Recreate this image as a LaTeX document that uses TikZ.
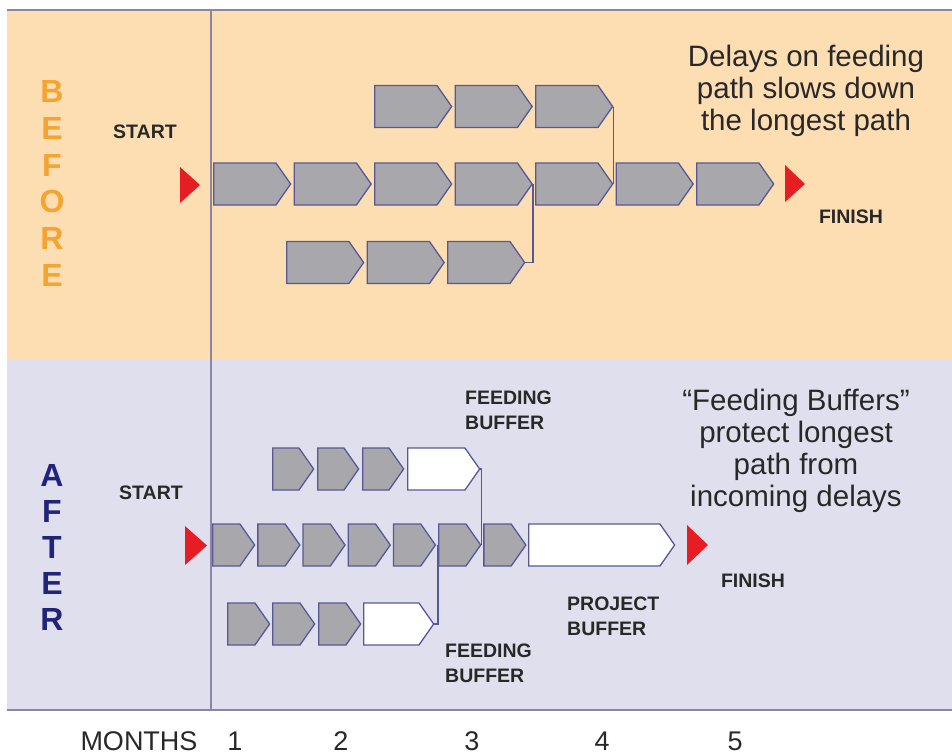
\documentclass[tikz,border=0pt]{standalone}
\usepackage{fontspec}
\setmainfont{Liberation Sans}
\usetikzlibrary{shapes.symbols,positioning}
\definecolor{PeachBg}{RGB}{253,221,178}
\definecolor{LilacBg}{RGB}{224,223,237}
\definecolor{FrameGray}{RGB}{140,134,165}
\definecolor{TaskGray}{RGB}{168,168,172}
\definecolor{TaskEdge}{RGB}{88,88,150}
\definecolor{MarkRed}{RGB}{230,30,36}
\definecolor{BeforeOrange}{RGB}{244,164,48}
\definecolor{AfterNavy}{RGB}{32,36,122}
\definecolor{InkGray}{RGB}{40,40,40}
\tikzset{
  task/.style={signal,signal to=east,signal pointer angle=110,draw=TaskEdge,fill=TaskGray,
    line width=1.3pt,inner sep=0pt,minimum height=42pt,anchor=west},
  buffer/.style={task,fill=white},
  link/.style={TaskEdge,line width=1.3pt},
  tag/.style={InkGray,font=\fontsize{19.5}{25}\selectfont\bfseries,align=left,inner sep=0pt},
  note/.style={InkGray,font=\fontsize{29.5}{32}\selectfont,align=center,inner sep=0pt},
  phase/.style={font=\fontsize{32}{32}\selectfont\bfseries,inner sep=0pt},
  month/.style={InkGray,font=\fontsize{27}{27}\selectfont,inner sep=0pt}
}
\begin{document}
\begin{tikzpicture}[x=1pt,y=-1pt]
      \useasboundingbox (0,0) rectangle (952,755);
      \fill[PeachBg] (7,11) rectangle (952,359);
      \fill[LilacBg] (7,359) rectangle (952,710);
      \draw[FrameGray,line width=2pt] (7,10)--(952,10) (7,710)--(952,710) (210.7,10)--(210.7,710);
      \foreach \c [count=\k] in {B,E,F,O,R,E}
        \node[phase,BeforeOrange] (lb\k) at (52,{91.7+36.7*(\k-1)}) {\c};
      \foreach \c [count=\k] in {A,F,T,E,R}
        \node[phase,AfterNavy] (la\k) at (52,{475+36.2*(\k-1)}) {\c};
      \foreach \i in {1,...,7}
        \node[task,minimum width=77pt] (bm\i) at ({213+80.5*(\i-1)},184) {};
      \foreach \x [count=\i] in {374,454.5,535}
        \node[task,minimum width=77pt] (bt\i) at (\x,106.5) {};
      \foreach \x [count=\i] in {286,366.5,447}
        \node[task,minimum width=77pt] (bb\i) at (\x,262.5) {};
      \draw[link] (bt3.east) -| (bm5.east);
      \draw[link] (bb3.east) -| (bm4.east);
      \fill[MarkRed] (180,167)--(200,185)--(180,203)--cycle;
      \fill[MarkRed] (785,165)--(805,184)--(785,202)--cycle;
      \node[tag] (bstart) at (145,132) {START};
      \node[tag] (bfinish) at (851,217) {FINISH};
      \node[note,anchor=north] (bnote) at (806,45) {Delays on feeding\\path slows down\\the longest path};
      \foreach \i in {1,...,7}
        \node[task,minimum width=42pt] (am\i) at ({212+45.2*(\i-1)},545) {};
      \node[buffer,minimum width=146pt] (pb) at (528,545) {};
      \foreach \x [count=\i] in {272,317,362}
        \node[task,minimum width=41pt] (at\i) at (\x,469) {};
      \node[buffer,minimum width=72pt] (fbt) at (407,469) {};
      \foreach \x [count=\i] in {227,272,318}
        \node[task,minimum width=42pt] (ab\i) at (\x,624) {};
      \node[buffer,minimum width=70pt] (fbb) at (363,624) {};
      \draw[link] (fbt.east) -| (am6.east);
      \draw[link] (fbb.east) -| (am6.west);
      \fill[MarkRed] (185,526)--(207,545.5)--(185,565)--cycle;
      \fill[MarkRed] (687,525)--(708,545)--(687,565)--cycle;
      \node[tag] (astart) at (151,493) {START};
      \node[tag] (afinish) at (753,581) {FINISH};
      \node[tag,anchor=north west] (fbtlabel) at (465,391) {FEEDING\\BUFFER};
      \node[tag,anchor=north west] (fbblabel) at (445,644) {FEEDING\\BUFFER};
      \node[tag,anchor=north west] (pblabel) at (567,597) {PROJECT\\BUFFER};
      \node[note,anchor=north] (anote) at (796,389) {``Feeding Buffers''\\protect longest\\path from\\incoming delays};
      \node[month] (mlabel) at (139,741) {MONTHS};
      \foreach \x [count=\k] in {235,341,472,602,735}
        \node[month] (m\k) at (\x,741) {\k};
    \end{tikzpicture}
\end{document}
